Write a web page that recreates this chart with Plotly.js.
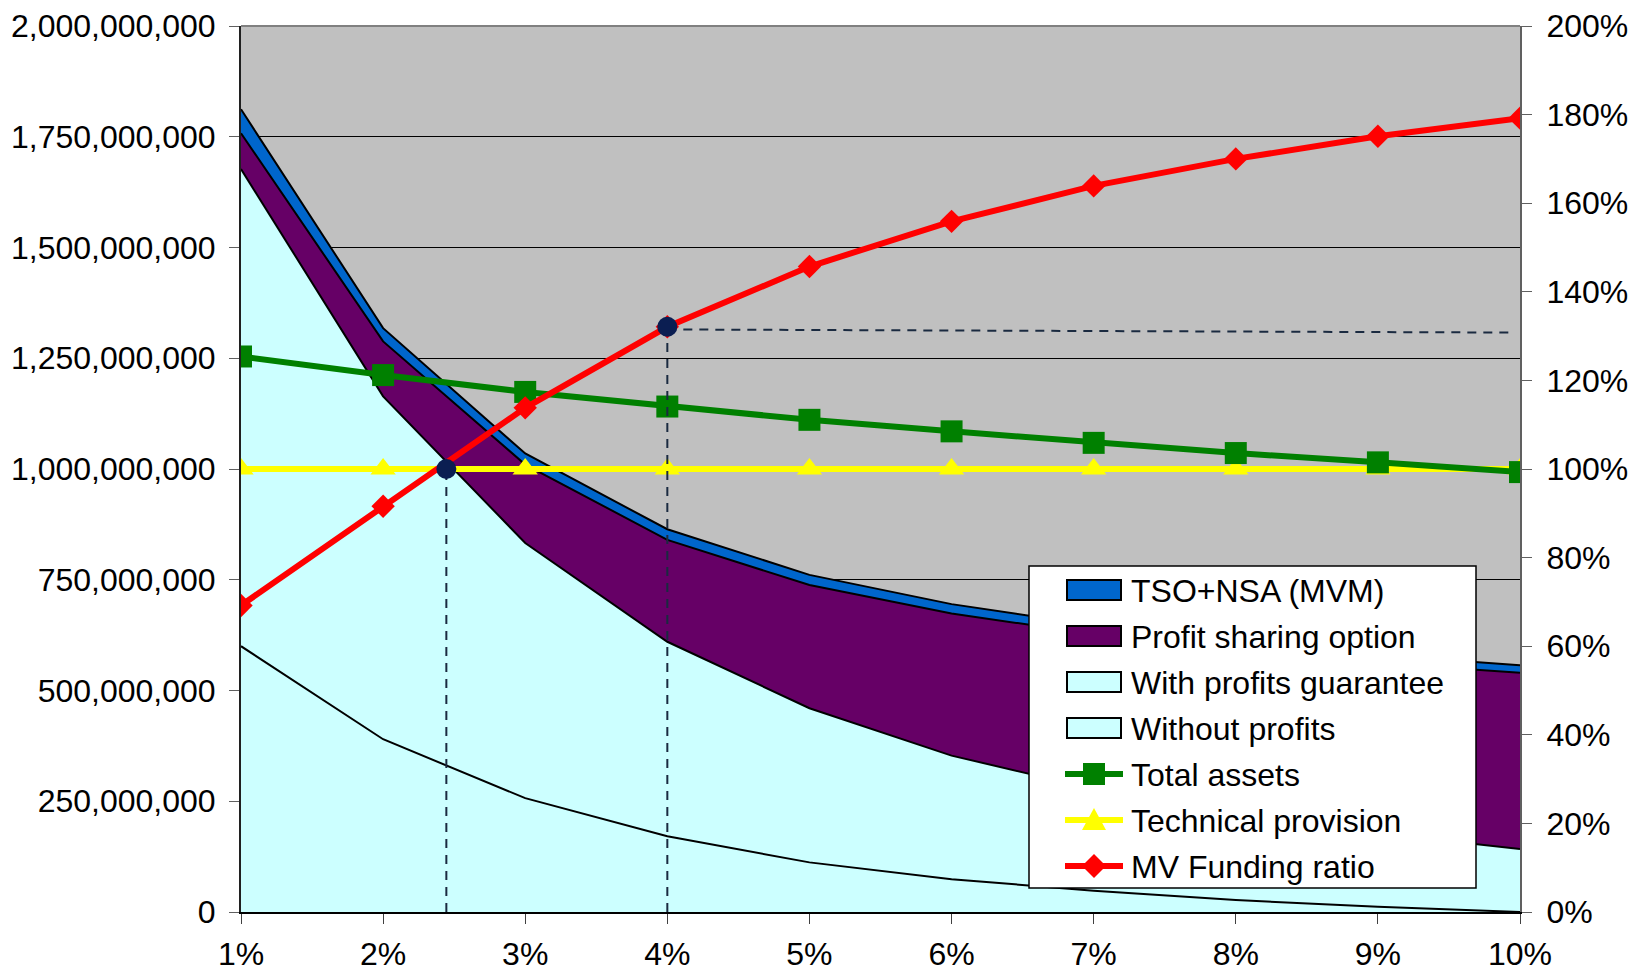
<!DOCTYPE html>
<html>
<head>
<meta charset="utf-8">
<script src="https://cdn.plot.ly/plotly-3.0.1.min.js"></script>
<style>
  html, body { margin: 0; padding: 0; background: #fff; }
  #chart { width: 1638px; height: 972px; }
</style>
</head>
<body>
<div id="chart"></div>
<script>
// Discount rate scenarios (%)
const rates = [1, 2, 3, 4, 5, 6, 7, 8, 9, 10];
const rateLabels = ['1%', '2%', '3%', '4%', '5%', '6%', '7%', '8%', '9%', '10%'];

// Liability components (stacked), market value
const withoutProfits       = [600e6, 390e6, 257e6, 171e6, 112e6, 74e6, 48e6, 27e6, 12e6, 0];
const withProfitsGuarantee = [1077e6, 774e6, 576e6, 439e6, 348e6, 279e6, 230e6, 196e6, 166e6, 142e6];
const profitSharingOption  = [81e6, 124e6, 177e6, 230e6, 278e6, 321e6, 349e6, 368e6, 384e6, 398e6];
const tsoNsa               = [54e6, 30e6, 25e6, 24e6, 23e6, 21e6, 20e6, 19e6, 18e6, 17e6];

// Balance sheet lines
const totalAssets        = [1254e6, 1212e6, 1174e6, 1141e6, 1111e6, 1085e6, 1059e6, 1036e6, 1015e6, 993e6];
const technicalProvision = [1000e6, 1000e6, 1000e6, 1000e6, 1000e6, 1000e6, 1000e6, 1000e6, 1000e6, 1000e6];
const mvFundingRatio     = [69.2, 91.6, 113.8, 132.1, 145.7, 155.9, 163.9, 170.0, 175.1, 179.2];

// Reference points: break-even rate (100% funding) and the 4% scenario
const breakEvenRate = 2.445;
const breakEvenRatio = 100;
const refRate = 4;
const refRatio = 132.1;
const refLineEndRate = 9.94;
const refLineRatios = [131.5, 130.8];

const leftTicks = [0, 250e6, 500e6, 750e6, 1000e6, 1250e6, 1500e6, 1750e6, 2000e6];
const rightTicks = [0, 20, 40, 60, 80, 100, 120, 140, 160, 180, 200];
const rightTickLabels = ['0%', '20%', '40%', '60%', '80%', '100%', '120%', '140%', '160%', '180%', '200%'];

const legendNames = ['TSO+NSA (MVM)', 'Profit sharing option', 'With profits guarantee', 'Without profits',
                     'Total assets', 'Technical provision', 'MV Funding ratio'];

const FONT = 'Liberation Sans, Arial, sans-serif';
const CYAN = '#CCFFFF', PURPLE = '#660066', BLUE = '#0066CC';
const GREEN = '#008000', YELLOW = '#FFFF00', RED = '#FF0000';
const NAVY = '#0B1E52', DASH = '#1A2A40';

const areaLine = { color: '#000000', width: 2 };

const traces = [
  { name: 'Without profits', x: rates, y: withoutProfits, type: 'scatter', mode: 'lines',
    stackgroup: 'liab', fillcolor: CYAN, line: areaLine },
  { name: 'With profits guarantee', x: rates, y: withProfitsGuarantee, type: 'scatter', mode: 'lines',
    stackgroup: 'liab', fillcolor: CYAN, line: areaLine },
  { name: 'Profit sharing option', x: rates, y: profitSharingOption, type: 'scatter', mode: 'lines',
    stackgroup: 'liab', fillcolor: PURPLE, line: areaLine },
  { name: 'TSO+NSA (MVM)', x: rates, y: tsoNsa, type: 'scatter', mode: 'lines',
    stackgroup: 'liab', fillcolor: BLUE, line: areaLine },
  { name: 'Technical provision', x: rates, y: technicalProvision, type: 'scatter', mode: 'lines+markers',
    line: { color: YELLOW, width: 6 },
    marker: { symbol: 'triangle-up', size: 22, color: YELLOW, line: { width: 0 } } },
  { name: 'Total assets', x: rates, y: totalAssets, type: 'scatter', mode: 'lines+markers',
    line: { color: GREEN, width: 6 },
    marker: { symbol: 'square', size: 22, color: GREEN, line: { width: 0 } } },
  { name: 'MV Funding ratio', x: rates, y: mvFundingRatio, type: 'scatter', mode: 'lines+markers', yaxis: 'y2',
    line: { color: RED, width: 6 },
    marker: { symbol: 'diamond', size: 18, color: RED, line: { width: 0 } } },
  // guide lines
  { x: [breakEvenRate, breakEvenRate], y: [0, breakEvenRatio], yaxis: 'y2', type: 'scatter', mode: 'lines',
    line: { color: DASH, width: 2, dash: '9px,7px' }, hoverinfo: 'skip' },
  { x: [refRate, refRate], y: [0, refRatio], yaxis: 'y2', type: 'scatter', mode: 'lines',
    line: { color: DASH, width: 2, dash: '9px,7px' }, hoverinfo: 'skip' },
  { x: [refRate, refLineEndRate], y: refLineRatios, yaxis: 'y2', type: 'scatter', mode: 'lines',
    line: { color: DASH, width: 2, dash: '9px,7px' }, hoverinfo: 'skip' },
  { x: [breakEvenRate, refRate], y: [breakEvenRatio, refRatio], yaxis: 'y2', type: 'scatter', mode: 'markers',
    marker: { symbol: 'circle', size: 20, color: NAVY, line: { width: 0 } } }
];
traces.forEach(t => { t.showlegend = false; });

// ---- plot area geometry (pixels) and a boxed legend drawn in paper space ----
const M = { l: 241, r: 118, t: 26, b: 60 };
const W = 1638, H = 972;
const PW = W - M.l - M.r, PH = H - M.t - M.b;
const px = x => (x - M.l) / PW;
const py = y => (M.t + PH - y) / PH;

const LEG = { x0: 1029, x1: 1476, y0: 566, y1: 888, row0: 590, rowStep: 46,
              symX0: 1067, symX1: 1121, textX: 1129 };
const legendStyle = [
  { kind: 'box', fill: BLUE },
  { kind: 'box', fill: PURPLE },
  { kind: 'box', fill: CYAN },
  { kind: 'box', fill: CYAN },
  { kind: 'line', color: GREEN, marker: 'square' },
  { kind: 'line', color: YELLOW, marker: 'triangle' },
  { kind: 'line', color: RED, marker: 'diamond' }
];

const shapes = [
  { type: 'line', xref: 'paper', yref: 'paper', x0: 0, x1: 1, y0: 1, y1: 1,
    line: { color: '#808080', width: 2 }, layer: 'above' },
  { type: 'rect', xref: 'paper', yref: 'paper', x0: px(LEG.x0), x1: px(LEG.x1), y0: py(LEG.y1), y1: py(LEG.y0),
    fillcolor: '#FFFFFF', line: { color: '#000000', width: 1.5 }, layer: 'above' }
];
const annotations = [];

function pathOf(points) {
  return 'M' + points.map(p => px(p[0]).toFixed(6) + ',' + py(p[1]).toFixed(6)).join('L') + 'Z';
}

legendNames.forEach((name, i) => {
  const cy = LEG.row0 + i * LEG.rowStep;
  const st = legendStyle[i];
  const cx = (LEG.symX0 + LEG.symX1) / 2;
  if (st.kind === 'box') {
    shapes.push({ type: 'rect', xref: 'paper', yref: 'paper',
      x0: px(LEG.symX0), x1: px(LEG.symX1), y0: py(cy + 10), y1: py(cy - 10),
      fillcolor: st.fill, line: { color: '#000000', width: 2 }, layer: 'above' });
  } else {
    shapes.push({ type: 'line', xref: 'paper', yref: 'paper',
      x0: px(LEG.symX0 - 2), x1: px(LEG.symX1 + 2), y0: py(cy), y1: py(cy),
      line: { color: st.color, width: 6 }, layer: 'above' });
    let pts;
    if (st.marker === 'square') pts = [[cx - 11, cy - 11], [cx + 11, cy - 11], [cx + 11, cy + 11], [cx - 11, cy + 11]];
    else if (st.marker === 'triangle') pts = [[cx, cy - 12], [cx + 12, cy + 10], [cx - 12, cy + 10]];
    else pts = [[cx, cy - 12], [cx + 12, cy], [cx, cy + 12], [cx - 12, cy]];
    shapes.push({ type: 'path', xref: 'paper', yref: 'paper', path: pathOf(pts),
      fillcolor: st.color, line: { width: 0 }, layer: 'above' });
  }
  annotations.push({ xref: 'paper', yref: 'paper', x: px(LEG.textX), y: py(cy + 1),
    xanchor: 'left', yanchor: 'middle', showarrow: false, text: name,
    font: { family: FONT, size: 32, color: '#000000' } });
});

const layout = {
  width: W, height: H,
  margin: M,
  paper_bgcolor: '#FFFFFF',
  plot_bgcolor: '#C0C0C0',
  font: { family: FONT, size: 32, color: '#000000' },
  showlegend: false,
  xaxis: {
    range: [1, 10], tickvals: rates, ticktext: rateLabels,
    showgrid: false, zeroline: false,
    showline: true, linecolor: '#000000', linewidth: 2,
    ticks: 'outside', ticklen: 10, tickcolor: '#404040', tickwidth: 1,
    ticklabelstandoff: 3,
    tickfont: { family: FONT, size: 32 }
  },
  yaxis: {
    range: [0, 2000e6], tickvals: leftTicks, tickformat: ',d',
    showgrid: true, gridcolor: '#000000', gridwidth: 1,
    zeroline: false,
    showline: true, linecolor: '#202020', linewidth: 2,
    ticks: 'outside', ticklen: 10, tickcolor: '#606060', tickwidth: 1,
    ticklabelstandoff: 7,
    tickfont: { family: FONT, size: 32 }
  },
  yaxis2: {
    range: [0, 200], tickvals: rightTicks, ticktext: rightTickLabels,
    overlaying: 'y', side: 'right',
    showgrid: false, zeroline: false,
    showline: true, linecolor: '#606060', linewidth: 2,
    ticks: 'outside', ticklen: 10, tickcolor: '#606060', tickwidth: 1,
    ticklabelstandoff: 8,
    tickfont: { family: FONT, size: 32 }
  },
  shapes: shapes,
  annotations: annotations
};

Plotly.newPlot('chart', traces, layout, { displayModeBar: false, staticPlot: true });
</script>
</body>
</html>
